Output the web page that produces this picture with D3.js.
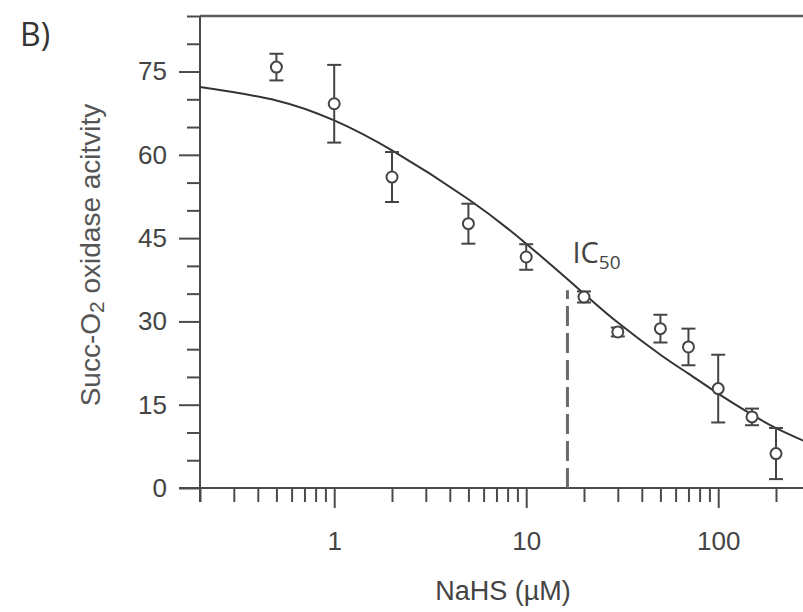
<!DOCTYPE html>
<html>
<head>
<meta charset="utf-8">
<script src="https://cdn.jsdelivr.net/npm/d3@7"></script>
<style>
  body { margin: 0; background: #fff; }
  svg { display: block; }
  .axis path, .axis line { stroke: #4a4a4a; stroke-width: 2; }
  .axis text { font-family: "Liberation Sans", Arial, sans-serif; font-size: 26px; fill: #444; }
</style>
</head>
<body>
<svg width="803" height="612"></svg>
<script>
// measured points (NaHS in uM, activity, +/- error)
var conc = [0.5, 1, 2, 5, 10, 20, 30, 50, 70, 100, 150, 200];
var activity = [75.8, 69.2, 56.0, 47.6, 41.6, 34.4, 28.1, 28.7, 25.4, 17.9, 12.8, 6.2];
var errors = [2.4, 7.0, 4.5, 3.6, 2.3, 1.0, 0.8, 2.5, 3.3, 6.1, 1.5, 4.6];

// fitted curve
var fitX = [0.2, 0.5, 1, 2, 5, 10, 20, 30, 50, 70, 100, 150, 200, 300];
var fitY = [72.2, 69.8, 66.2, 60.8, 52.0, 44.0, 35.0, 29.8, 24.0, 20.6, 17.0, 13.2, 10.8, 8.0];

// IC50 marker
var ic50 = 16.4;
var ic50Y = 35.6;

// tick values
var xMajor = [1, 10, 100];
var xMinor = [0.2, 0.3, 0.4, 0.5, 0.6, 0.7, 0.8, 0.9, 2, 3, 4, 5, 6, 7, 8, 9,
              20, 30, 40, 50, 60, 70, 80, 90, 200, 300];
var yMajor = [0, 15, 30, 45, 60, 75];
var yMinor = [5, 10, 20, 25, 35, 40, 50, 55, 65, 70, 80, 85];

var svg = d3.select("svg");

// log x scale: one decade is about 192px, frame runs past the right edge
var x = d3.scaleLog().domain([0.2, 300]).range([200, 200 + 192 * Math.log10(1500)]);
var y = d3.scaleLinear().domain([0, 85]).range([488, 16]);

// top frame line
svg.append("line")
  .attr("x1", x(0.2)).attr("x2", 803)
  .attr("y1", y(85)).attr("y2", y(85))
  .attr("stroke", "#5a5a5a").attr("stroke-width", 2.5);

// x axis: minor ticks then major ticks with labels
svg.append("g")
  .attr("class", "axis")
  .attr("transform", "translate(0," + y(0) + ")")
  .call(d3.axisBottom(x).tickValues(xMinor).tickSize(14).tickFormat(""))
  .call(function (g) { g.select(".domain").remove(); });

svg.append("g")
  .attr("class", "axis")
  .attr("transform", "translate(0," + y(0) + ")")
  .call(d3.axisBottom(x).tickValues(xMajor).tickSize(20).tickPadding(24).tickSizeOuter(0)
    .tickFormat(d3.format("d")))
  .call(function (g) { g.select(".domain").attr("d", "M" + (x(0.2) - 21) + ",0H803"); });

// y axis
svg.append("g")
  .attr("class", "axis")
  .attr("transform", "translate(" + x(0.2) + ",0)")
  .call(d3.axisLeft(y).tickValues(yMinor).tickSize(13).tickFormat(""))
  .call(function (g) { g.select(".domain").remove(); });

svg.append("g")
  .attr("class", "axis")
  .attr("transform", "translate(" + x(0.2) + ",0)")
  .call(d3.axisLeft(y).tickValues(yMajor).tickSize(21).tickPadding(12).tickSizeOuter(0))
  .call(function (g) { g.select(".domain").attr("d", "M0," + y(85) + "V" + (y(0) + 14)); });

// IC50 dashed drop line
svg.append("line")
  .attr("x1", x(ic50)).attr("x2", x(ic50))
  .attr("y1", y(0)).attr("y2", y(ic50Y))
  .attr("stroke", "#6a6a6a").attr("stroke-width", 3)
  .attr("stroke-dasharray", "20,7");

// fitted curve
var line = d3.line()
  .x(function (d, i) { return x(d); })
  .y(function (d, i) { return y(fitY[i]); })
  .curve(d3.curveNatural);

svg.append("path")
  .datum(fitX)
  .attr("d", line)
  .attr("fill", "none")
  .attr("stroke", "#333")
  .attr("stroke-width", 2);

// error bars
var pts = conc.map(function (c, i) { return { c: c, v: activity[i], e: errors[i] }; });

var bars = svg.append("g")
  .attr("stroke", "#444")
  .attr("stroke-width", 2)
  .selectAll("g")
  .data(pts)
  .enter()
  .append("g");

bars.append("line")
  .attr("x1", function (d) { return x(d.c); })
  .attr("x2", function (d) { return x(d.c); })
  .attr("y1", function (d) { return y(d.v - d.e); })
  .attr("y2", function (d) { return y(d.v + d.e); });

bars.append("line")
  .attr("x1", function (d) { return x(d.c) - 7; })
  .attr("x2", function (d) { return x(d.c) + 7; })
  .attr("y1", function (d) { return y(d.v + d.e); })
  .attr("y2", function (d) { return y(d.v + d.e); });

bars.append("line")
  .attr("x1", function (d) { return x(d.c) - 7; })
  .attr("x2", function (d) { return x(d.c) + 7; })
  .attr("y1", function (d) { return y(d.v - d.e); })
  .attr("y2", function (d) { return y(d.v - d.e); });

// open circles
svg.append("g")
  .selectAll("circle")
  .data(pts)
  .enter()
  .append("circle")
  .attr("cx", function (d) { return x(d.c); })
  .attr("cy", function (d) { return y(d.v); })
  .attr("r", 5.5)
  .attr("fill", "#fff")
  .attr("stroke", "#444")
  .attr("stroke-width", 2);

// IC50 label
var ic = svg.append("text")
  .attr("x", x(ic50) + 5)
  .attr("y", y(ic50Y) - 27)
  .attr("font-family", "'Open Sans', sans-serif")
  .attr("font-size", 29)
  .attr("fill", "#444")
  .text("IC");
ic.append("tspan")
  .attr("font-size", 19)
  .attr("dy", 6)
  .text("50");

// panel letter
svg.append("text")
  .attr("x", 20)
  .attr("y", 46)
  .attr("font-family", "'Open Sans', sans-serif")
  .attr("font-size", 32)
  .attr("fill", "#333")
  .text("B)");

// axis titles
svg.append("text")
  .attr("x", 503)
  .attr("y", 600)
  .attr("text-anchor", "middle")
  .attr("font-family", "'Liberation Sans', Arial, sans-serif")
  .attr("font-size", 27)
  .attr("fill", "#444")
  .text("NaHS (\u00b5M)");

var yt = svg.append("text")
  .attr("transform", "translate(100,255) rotate(-90)")
  .attr("text-anchor", "middle")
  .attr("font-family", "'Liberation Sans', Arial, sans-serif")
  .attr("font-size", 28)
  .attr("fill", "#555")
  .text("Succ-O");
yt.append("tspan").attr("font-size", 21).attr("dy", 4).text("2");
yt.append("tspan").attr("dy", -4).text(" oxidase acitvity");
</script>
</body>
</html>
